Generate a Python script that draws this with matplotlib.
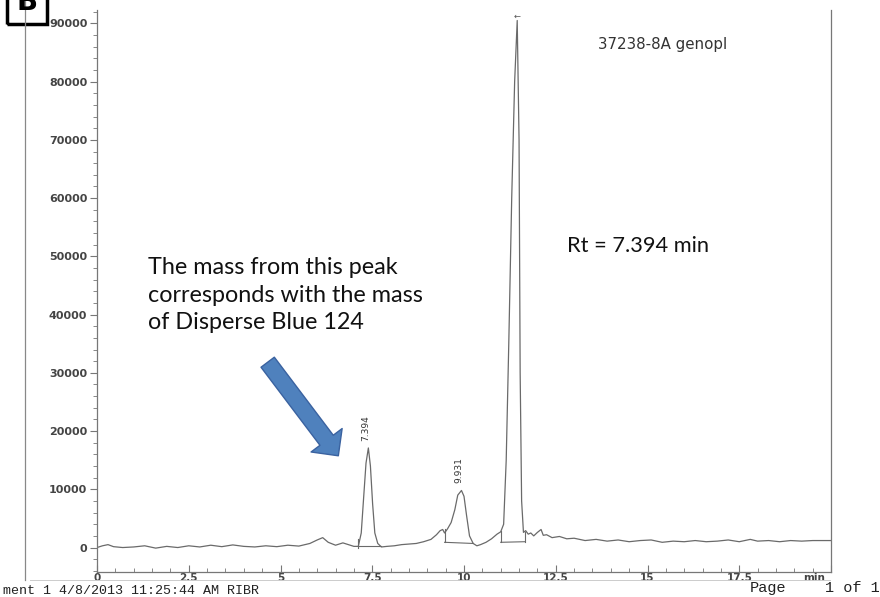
import numpy as np
import matplotlib
matplotlib.use('Agg')
import matplotlib.pyplot as plt
import matplotlib.ticker as mtick
from matplotlib.patches import FancyArrowPatch, Rectangle
from matplotlib import rcParams

rcParams['font.family'] = 'DejaVu Sans'

# chromatogram trace, retention time (min) vs detector signal
time_min = [0.0, 0.15, 0.3, 0.45, 0.7, 1.0, 1.3, 1.6, 1.9, 2.2, 2.5, 2.8, 3.1, 3.4, 3.7, 4.0,
            4.3, 4.6, 4.9, 5.2, 5.5, 5.8, 6.0, 6.15, 6.3, 6.5, 6.7, 6.85, 7.0, 7.12, 7.2,
            7.27, 7.33, 7.394, 7.45, 7.51, 7.57, 7.65, 7.75, 7.9, 8.1, 8.3, 8.5, 8.7, 8.9,
            9.1, 9.25, 9.35, 9.42, 9.47, 9.55, 9.65, 9.75, 9.83, 9.931, 10.0, 10.07, 10.15,
            10.25, 10.35, 10.45, 10.6, 10.75, 10.9, 11.0, 11.08, 11.15, 11.22, 11.3, 11.38,
            11.45, 11.5, 11.53, 11.57, 11.62, 11.68, 11.75, 11.82, 11.9, 12.0, 12.1, 12.16,
            12.25, 12.4, 12.6, 12.8, 13.0, 13.3, 13.6, 13.9, 14.2, 14.5, 14.8, 15.1, 15.4,
            15.7, 16.0, 16.3, 16.6, 16.9, 17.2, 17.5, 17.8, 18.0, 18.3, 18.6, 18.9, 19.2,
            19.5, 19.8, 20.0]
signal = [0, 300, 500, 150, 0, 100, 300, -100, 200, 0, 300, 100, 400, 150, 450, 200,
          100, 300, 150, 400, 250, 700, 1300, 1700, 900, 400, 800, 500, 200, 200, 2500,
          9000, 14500, 17100, 14000, 7500, 2500, 700, 100, 200, 300, 500, 600, 700, 1000,
          1400, 2200, 2900, 3100, 2500, 3200, 4300, 6500, 9000, 9800, 8800, 5500, 2000,
          700, 300, 500, 900, 1500, 2300, 2700, 4000, 15000, 35000, 60000, 80000,
          90500, 70000, 30000, 8000, 2600, 2900, 2300, 2500, 2000, 2600, 3100, 2100,
          2200, 1700, 1900, 1500, 1600, 1200, 1400, 1100, 1300, 1000, 1200, 1300, 900,
          1100, 1000, 1200, 1000, 1100, 1300, 1000, 1400, 1100, 1200, 1000, 1200, 1100,
          1200, 1200, 1200]

# labelled peaks
peak_rt = [7.394, 9.931]
peak_label = ['7.394', '9.931']
peak_height = [17100, 9800]

# integration baselines (t0, y0, t1, y1) and peak start/stop marks (t, ylow, yhigh)
baselines = [(7.12, 300, 7.75, 300), (9.47, 900, 10.25, 700), (11.0, 900, 11.65, 1000)]
event_marks = [(7.12, 0, 1500), (9.47, 900, 3100), (11.0, 900, 2900), (11.65, 1000, 2700)]

W, H = 880, 597
fig = plt.figure(figsize=(W / 100, H / 100), dpi=100)
fig.patch.set_facecolor('white')

def px(x, y):
    # pixel position (from top-left) -> figure fraction
    return x / W, 1 - y / H

ax = fig.add_axes([97 / W, 25 / H, (831 - 97) / W, (572 - 10) / H])
trace_col = '#6a6a6a'
ax.plot(time_min, signal, color=trace_col, lw=0.9)
for t0, y0, t1, y1 in baselines:
    ax.plot([t0, t1], [y0, y1], color=trace_col, lw=0.8)
for t, lo, hi in event_marks:
    ax.plot([t, t], [lo, hi], color=trace_col, lw=0.8)

for rt, lab, h in zip(peak_rt, peak_label, peak_height):
    ax.text(rt - 0.06, h + 1200, lab, rotation=90, ha='center', va='bottom',
            fontsize=6.5, color='#333333')

ax.text(11.45, 91300, '\u2190', ha='center', va='center', fontsize=6, color='#555555')

ax.set_xlim(0, 20)
ax.set_ylim(-4200, 92300)
ax.xaxis.set_major_locator(mtick.MultipleLocator(2.5))
ax.xaxis.set_minor_locator(mtick.MultipleLocator(0.5))
ax.yaxis.set_major_locator(mtick.MultipleLocator(10000))
ax.yaxis.set_minor_locator(mtick.MultipleLocator(2000))
ax.xaxis.set_major_formatter(mtick.FuncFormatter(lambda v, p: '' if v > 19 else ('%g' % v)))

for s in ['left', 'right', 'bottom']:
    ax.spines[s].set_color('#777777')
    ax.spines[s].set_linewidth(0.9)
ax.spines['top'].set_visible(False)

ax.tick_params(axis='y', which='major', direction='out', length=5, width=0.8,
               colors='#777777', labelcolor='#444444', labelsize=8, pad=2)
ax.tick_params(axis='y', which='minor', direction='out', length=3, width=0.7, colors='#888888')
ax.tick_params(axis='x', which='major', direction='in', length=5, width=0.8,
               colors='#777777', labelcolor='#444444', labelsize=7.5, pad=1)
ax.tick_params(axis='x', which='minor', direction='in', length=3, width=0.7, colors='#888888')
for lab in ax.get_xticklabels() + ax.get_yticklabels():
    lab.set_fontweight('bold')
ax.text(19.55, -4400, 'min', ha='center', va='top',
        fontsize=7.5, fontweight='bold', color='#444444')
ax.set_facecolor('none')

# sample name
fig.text(*px(663, 44), '37238-8A genopl', ha='center', va='center', fontsize=10.8, color='#333333')

# notes
fig.text(*px(567, 246), 'Rt = 7.394 min', ha='left', va='center', fontsize=15.7,
         family='Lato', color='#111111')
fig.text(*px(148, 295), 'The mass from this peak\ncorresponds with the mass\nof Disperse Blue 124',
         ha='left', va='center', fontsize=16.8, family='Lato', color='#111111', linespacing=1.4)

arrow = FancyArrowPatch(px(266, 360), px(340, 458), transform=fig.transFigure,
                        arrowstyle='simple,head_length=14,head_width=28,tail_width=12',
                        mutation_scale=1, facecolor='#4f81bd', edgecolor='#3a62a0', lw=1.0)
fig.patches.append(arrow)

# page border, panel letter box, footer
fig.add_artist(plt.Line2D([25 / W, 25 / W], [1 - 0 / H, 1 - 580 / H], color='#888888', lw=0.9))
fig.add_artist(plt.Line2D([30 / W, 830 / W], [1 - 580 / H, 1 - 580 / H], color='#cccccc', lw=0.7))
fig.add_artist(Rectangle(px(7, 24), 40 / W, 40 / H, transform=fig.transFigure,
                         fill=False, edgecolor='black', lw=2.5))
fig.text(*px(27, 2), 'B', ha='center', va='center', fontsize=20, fontweight='bold')

fig.text(*px(3, 594.5), 'ment 1 4/8/2013 11:25:44 AM RIBR', ha='left', va='baseline',
         family='Liberation Mono', fontsize=9.6, color='#222222')
fig.text(*px(750, 592), 'Page', ha='left', va='baseline',
         family='Liberation Mono', fontsize=11, color='#222222')
fig.text(*px(880, 592), '1 of 1', ha='right', va='baseline',
         family='Liberation Mono', fontsize=11, color='#222222')

fig.savefig('out.png', dpi=100)
